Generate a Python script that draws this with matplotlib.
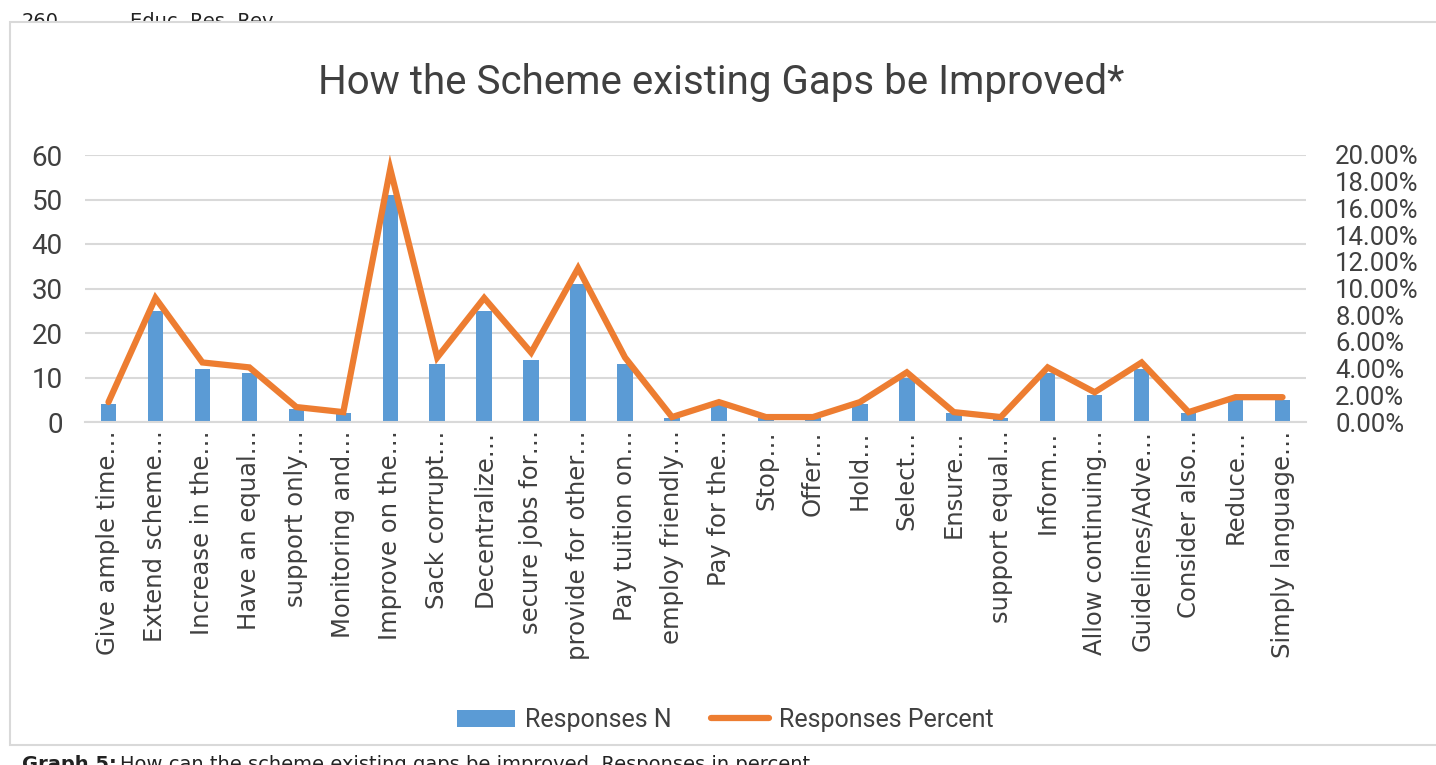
import matplotlib
matplotlib.use('Agg')
import matplotlib.pyplot as plt
from matplotlib.patches import Rectangle, Patch
from matplotlib.lines import Line2D
from matplotlib.ticker import PercentFormatter

# data
labels = ['Give ample time…', 'Extend scheme…', 'Increase in the…', 'Have an equal…',
          'support only…', 'Monitoring and…', 'Improve on the…', 'Sack corrupt…',
          'Decentralize…', 'secure jobs for…', 'provide for other…', 'Pay tuition on…',
          'employ friendly…', 'Pay for the…', 'Stop…', 'Offer…', 'Hold…', 'Select…',
          'Ensure…', 'support equal…', 'Inform…', 'Allow continuing…',
          'Guidelines/Adve…', 'Consider also…', 'Reduce…', 'Simply language…']
resp_n = [4, 25, 12, 11, 3, 2, 51, 13, 25, 14, 31, 13, 1, 4, 1, 1, 4, 10, 2, 1,
          11, 6, 12, 2, 5, 5]
resp_pct = [1.49, 9.29, 4.46, 4.09, 1.12, 0.74, 18.96, 4.83, 9.29, 5.20, 11.52,
            4.83, 0.37, 1.49, 0.37, 0.37, 1.49, 3.72, 0.74, 0.37, 4.09, 2.23,
            4.46, 0.74, 1.86, 1.86]

blue = '#5B9BD5'
orange = '#ED7D31'
grid_col = '#D9D9D9'
txt_col = '#404040'
narrow = ['Roboto', 'DejaVu Sans']

my_dpi = 100
fig = plt.figure(figsize=(14.36, 7.65), dpi=my_dpi)

# page header, mostly hidden behind the chart box
fig.text(22 / 1436, 1 - 12 / 765, '260', fontsize=14, va='top', color='#222222', zorder=0)
fig.text(130 / 1436, 1 - 12 / 765, 'Educ. Res. Rev.', fontsize=14, va='top',
         color='#222222', zorder=0)
# chart box
fig.patches.append(Rectangle((10 / 1436, 1 - 745 / 765), 1.0, (745 - 22) / 765,
                             transform=fig.transFigure, facecolor='white',
                             edgecolor='#D9D9D9', linewidth=1.5, zorder=1))
# caption below the box, cut off by the page edge (as in the source page)
fig.text(22 / 1436, 1 - 755 / 765, 'Graph 5:', fontsize=14, fontweight='bold',
         va='top', color='#222222', zorder=2)
fig.text(120 / 1436, 1 - 755 / 765,
         'How can the scheme existing gaps be improved. Responses in percent.',
         fontsize=14, va='top', color='#222222', zorder=2)

ax = fig.add_axes([85 / 1436, 1 - 422 / 765, (1306 - 85) / 1436, (422 - 155) / 765])
ax.set_zorder(3)
ax.patch.set_visible(False)
x = list(range(len(labels)))
ax.bar(x, resp_n, width=0.33, color=blue, zorder=2)
ax.set_ylim(0, 60)
ax.set_xlim(-0.5, len(labels) - 0.5)
ax.set_yticks(range(0, 61, 10))
ax.yaxis.grid(True, color=grid_col, linewidth=1.5, zorder=0)
ax.set_axisbelow(True)
for s in ['top', 'right', 'left']:
    ax.spines[s].set_visible(False)
ax.spines['bottom'].set_color(grid_col)
ax.spines['bottom'].set_linewidth(1.5)
ax.tick_params(axis='y', length=0, pad=16, labelsize=20, labelcolor=txt_col)
ax.tick_params(axis='x', length=0, pad=6)
ax.set_xticks(x)
ax.set_xticklabels(labels, rotation=90, fontsize=17.5, color=txt_col)
for t in ax.get_yticklabels():
    t.set_family(narrow)

ax2 = ax.twinx()
ax2.plot(x, resp_pct, color=orange, linewidth=4.5, solid_capstyle='round',
         solid_joinstyle='miter', zorder=3)
ax2.set_ylim(0, 20)
ax2.set_yticks(range(0, 21, 2))
ax2.yaxis.set_major_formatter(PercentFormatter(100, decimals=2))
for s in ['top', 'right', 'left', 'bottom']:
    ax2.spines[s].set_visible(False)
ax2.tick_params(axis='y', length=0, pad=21, labelsize=18.5, labelcolor=txt_col)
for t in ax2.get_yticklabels():
    t.set_family(narrow)

fig.text(0.502, 1 - 82 / 765, 'How the Scheme existing Gaps be Improved*',
         fontsize=29, ha='center', va='center', color=txt_col, family=narrow, zorder=4)

handles = [Patch(facecolor=blue, label='Responses N'),
           Line2D([0], [0], color=orange, linewidth=4.5, solid_capstyle='round',
                  label='Responses Percent')]
leg = fig.legend(handles=handles, loc='center', bbox_to_anchor=(0.505, 1 - 720 / 765),
                 ncol=2, frameon=False, prop={'family': narrow, 'size': 18},
                 handlelength=2.3, columnspacing=1.6, handletextpad=0.4)
for t in leg.get_texts():
    t.set_color(txt_col)
leg.set_zorder(4)

plt.savefig('out.png', dpi=my_dpi)
